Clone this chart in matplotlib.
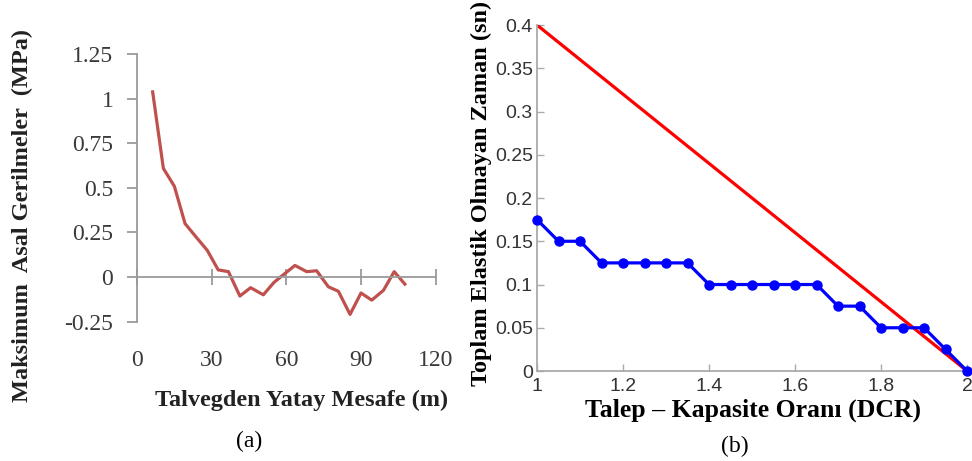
import matplotlib
matplotlib.use('Agg')
import matplotlib.pyplot as plt

# (a) principal stress along the section
dist_m = [6.3, 10.6, 15.0, 19.3, 24.0, 28.2, 32.6, 36.7, 41.3, 45.6, 50.7, 55.0,
          59.4, 63.4, 68.1, 72.1, 76.8, 80.8, 85.5, 89.9, 94.2, 98.9, 103.2, 107.5]
stress_mpa = [1.04, 0.61, 0.51, 0.30, 0.22, 0.15, 0.04, 0.03, -0.107, -0.06, -0.10, -0.03,
              0.02, 0.065, 0.03, 0.035, -0.055, -0.08, -0.21, -0.09, -0.13, -0.075, 0.03, -0.04]
a_xticks = [0, 30, 60, 90, 120]
a_yticks = [-0.25, 0, 0.25, 0.5, 0.75, 1, 1.25]
a_yticklabels = ['-0.25', '0', '0.25', '0.5', '0.75', '1', '1.25']

# (b) inelastic time vs demand-capacity ratio
dcr = [1.00, 1.05, 1.10, 1.15, 1.20, 1.25, 1.30, 1.35, 1.40, 1.45, 1.50,
       1.55, 1.60, 1.65, 1.70, 1.75, 1.80, 1.85, 1.90, 1.95, 2.00]
inelastic_t = [0.175, 0.15, 0.15, 0.125, 0.125, 0.125, 0.125, 0.125, 0.1, 0.1, 0.1,
               0.1, 0.1, 0.1, 0.075, 0.075, 0.05, 0.05, 0.05, 0.025, 0.0]
limit_x = [1.0, 2.0]
limit_t = [0.4, 0.0]
b_xticks = [1, 1.2, 1.4, 1.6, 1.8, 2]
b_xticklabels = ['1', '1.2', '1.4', '1.6', '1.8', '2']
b_yticks = [0, 0.05, 0.1, 0.15, 0.2, 0.25, 0.3, 0.35, 0.4]
b_yticklabels = ['0', '0.05', '0.1', '0.15', '0.2', '0.25', '0.3', '0.35', '0.4']

SERIF = 'Liberation Serif'
SANS = 'Liberation Sans'

fig = plt.figure(figsize=(9.72, 4.61), dpi=100)

# ---------- panel (a): Excel-style chart ----------
ax1 = fig.add_axes([0.1409, 0.3026, 0.3077, 0.5792])
ax1.plot(dist_m, stress_mpa, color='#C0504D', linewidth=2.3, solid_joinstyle='round')
ax1.set_xlim(0, 120)
ax1.set_ylim(-0.25, 1.25)
for s in ['top', 'right']:
    ax1.spines[s].set_visible(False)
ax1.spines['left'].set_color('#9a9a9a')
ax1.spines['left'].set_linewidth(1.3)
ax1.spines['bottom'].set_position(('data', 0))
ax1.spines['bottom'].set_color('#9a9a9a')
ax1.spines['bottom'].set_linewidth(1.3)
ax1.set_xticks(a_xticks)
ax1.set_xticklabels([str(v) for v in a_xticks], fontfamily=SERIF, fontsize=17, color='#3a3a3a')
ax1.set_yticks(a_yticks)
ax1.set_yticklabels(a_yticklabels, fontfamily=SERIF, fontsize=17, color='#3a3a3a')
ax1.tick_params(axis='x', direction='inout', length=11, width=1.3, color='#9a9a9a', pad=47)
ax1.tick_params(axis='y', direction='out', length=7, width=1.3, color='#9a9a9a', pad=10)

fig.text(22 / 972, 1 - 215 / 461, 'Maksimum  Asal Gerilmeler  (MPa)', rotation=90,
         ha='center', va='center', fontfamily=SERIF, fontweight='bold', fontsize=17.5,
         color='#222222')
fig.text(302 / 972, 1 - 400 / 461, 'Talvegden Yatay Mesafe (m)', ha='center', va='center',
         fontfamily=SERIF, fontweight='bold', fontsize=17.5, color='#222222')
fig.text(249 / 972, 1 - 441 / 461, '(a)', ha='center', va='center',
         fontfamily=SERIF, fontsize=17, color='black')

# ---------- panel (b): MATLAB-style chart ----------
ax2 = fig.add_axes([0.5525, 0.1952, 0.4424, 0.7505])
ax2.plot(limit_x, limit_t, color='#FF0000', linewidth=2.3, zorder=2)
ax2.plot(dcr, inelastic_t, color='#0000FF', linewidth=2.3, marker='o', markersize=6.5,
         zorder=3, clip_on=False)
ax2.set_xlim(1, 2)
ax2.set_ylim(0, 0.4)
for s in ['top', 'right']:
    ax2.spines[s].set_visible(False)
for s in ['left', 'bottom']:
    ax2.spines[s].set_color('#aaaaaa')
    ax2.spines[s].set_linewidth(1.3)
ax2.set_xticks(b_xticks)
ax2.set_xticklabels(b_xticklabels, fontfamily=SANS, fontsize=14, color='#333333')
ax2.set_yticks(b_yticks)
ax2.set_yticklabels(b_yticklabels, fontfamily=SANS, fontsize=14, color='#333333')
ax2.tick_params(direction='in', length=5, width=1, color='#aaaaaa')
ax2.tick_params(axis='x', pad=5)
ax2.tick_params(axis='y', pad=3)

fig.text(481 / 972, 1 - 193 / 461, 'Toplam Elastik Olmayan Zaman (sn)', rotation=90,
         ha='center', va='center', fontfamily=SERIF, fontweight='bold', fontsize=17.5,
         color='black')
fig.text(753 / 972, 1 - 410 / 461, 'Talep – Kapasite Oranı (DCR)', ha='center', va='center',
         fontfamily=SERIF, fontweight='bold', fontsize=18.5, color='black')
fig.text(735 / 972, 1 - 446 / 461, '(b)', ha='center', va='center',
         fontfamily=SERIF, fontsize=17, color='black')

fig.savefig('out.png', dpi=100)
